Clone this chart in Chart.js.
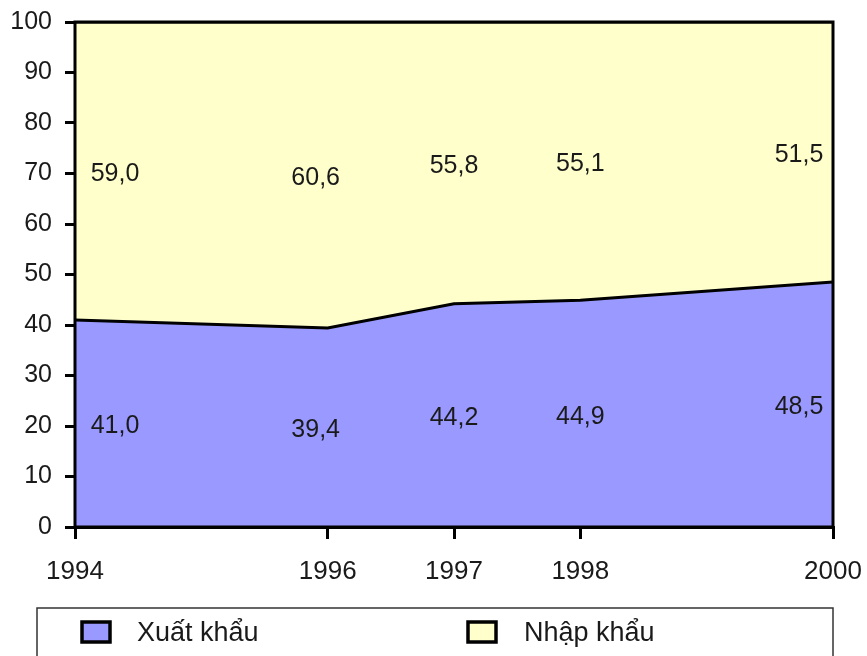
<!DOCTYPE html>
<html>
<head>
<meta charset="utf-8">
<script src="https://cdn.jsdelivr.net/npm/chart.js@4.4.1/dist/chart.umd.min.js"></script>
<style>
  body { margin: 0; background: #fff; }
  #wrap { width: 867px; height: 656px; }
</style>
</head>
<body>
<div id="wrap"><canvas id="myChart" width="867" height="656"></canvas></div>
<script>
// Data
const years = [1994, 1996, 1997, 1998, 2000];
const exportShare = [41.0, 39.4, 44.2, 44.9, 48.5];   // Xuất khẩu
const importShare = [59.0, 60.6, 55.8, 55.1, 51.5];   // Nhập khẩu
const yTicks = [0, 10, 20, 30, 40, 50, 60, 70, 80, 90, 100];
const seriesNames = ['Xuất khẩu', 'Nhập khẩu'];

const FONT = "'Liberation Sans', Arial, sans-serif";

// small horizontal nudges for the value labels (px)
const labelDx = [40, -12, 0, 0, -34];

// Value labels in the middle of each band
const valueLabels = {
    id: 'valueLabels',
    afterDatasetsDraw(chart) {
        const ctx = chart.ctx;
        const xs = chart.scales.x, ys = chart.scales.y;
        ctx.save();
        ctx.font = '25px ' + FONT;
        ctx.fillStyle = '#1a1a1a';
        ctx.textAlign = 'center';
        ctx.textBaseline = 'middle';
        years.forEach((yr, i) => {
            const x = xs.getPixelForValue(yr) + labelDx[i];
            const yLow = ys.getPixelForValue(exportShare[i] / 2) + 3;
            const yHigh = ys.getPixelForValue(exportShare[i] + importShare[i] / 2) + 3;
            ctx.fillText(exportShare[i].toFixed(1).replace('.', ','), x, yLow);
            ctx.fillText(importShare[i].toFixed(1).replace('.', ','), x, yHigh);
        });
        ctx.restore();
    }
};

// frame round the plot + boxed legend at the bottom
const frameAndLegend = {
    id: 'frameAndLegend',
    afterDraw(chart) {
        const ctx = chart.ctx;
        const a = chart.chartArea;
        ctx.save();
        ctx.strokeStyle = '#000';
        ctx.lineWidth = 3;
        ctx.strokeRect(a.left, a.top, a.right - a.left, a.bottom - a.top);

        // legend box (runs off the bottom edge like the original)
        ctx.lineWidth = 1.5;
        ctx.strokeStyle = '#333';
        ctx.strokeRect(37, 608, a.right - 37, 80);

        const items = [
            { x: 82, textX: 137 },
            { x: 468, textX: 524 }
        ];
        ctx.font = '27px ' + FONT;
        ctx.textBaseline = 'middle';
        ctx.textAlign = 'left';
        chart.data.datasets.forEach((ds, i) => {
            const it = items[i];
            ctx.fillStyle = ds.backgroundColor;
            ctx.fillRect(it.x, 622, 28, 20);
            ctx.lineWidth = 3.5;
            ctx.strokeStyle = '#000';
            ctx.strokeRect(it.x, 622, 28, 20);
            ctx.fillStyle = '#1a1a1a';
            ctx.fillText(ds.label, it.textX, 634);
        });
        ctx.restore();
    }
};

new Chart(document.getElementById('myChart').getContext('2d'), {
    type: 'line',
    data: {
        datasets: [
            {
                label: seriesNames[0],
                data: years.map((yr, i) => ({ x: yr, y: exportShare[i] })),
                backgroundColor: '#9999FF',
                borderColor: '#000',
                borderWidth: 3,
                fill: 'origin',
                tension: 0,
                pointRadius: 0
            },
            {
                label: seriesNames[1],
                data: years.map((yr, i) => ({ x: yr, y: importShare[i] })),
                backgroundColor: '#FFFFCC',
                borderColor: '#000',
                borderWidth: 3,
                fill: '-1',
                tension: 0,
                pointRadius: 0
            }
        ]
    },
    options: {
        responsive: false,
        animation: false,
        layout: { padding: { top: 22, right: 34, left: 0, bottom: 0 } },
        plugins: {
            legend: { display: false },
            tooltip: { enabled: false }
        },
        scales: {
            x: {
                type: 'linear',
                min: years[0],
                max: years[years.length - 1],
                afterBuildTicks: scale => { scale.ticks = years.map(v => ({ value: v })); },
                afterFit: scale => { scale.height = 129; },
                grid: {
                    drawOnChartArea: false,
                    drawTicks: true,
                    tickLength: 12,
                    color: '#000',
                    lineWidth: 3
                },
                border: { display: true, color: '#000', width: 3 },
                ticks: {
                    autoSkip: false,
                    maxRotation: 0,
                    padding: 5,
                    color: '#1a1a1a',
                    // tall line height pushes the labels down without widening the side padding
                    font: { family: FONT, size: 26, lineHeight: 2.15 },
                    callback: v => String(v)
                }
            },
            y: {
                stacked: true,
                min: 0,
                max: 100,
                afterBuildTicks: scale => { scale.ticks = yTicks.map(v => ({ value: v })); },
                afterFit: scale => { scale.width = 75; },
                grid: {
                    drawOnChartArea: false,
                    drawTicks: true,
                    tickLength: 10,
                    color: '#000',
                    lineWidth: 3
                },
                border: { display: true, color: '#000', width: 3 },
                ticks: {
                    padding: 13,
                    color: '#1a1a1a',
                    font: { family: FONT, size: 25, lineHeight: 0.6 }
                }
            }
        }
    },
    plugins: [valueLabels, frameAndLegend]
});
</script>
</body>
</html>
